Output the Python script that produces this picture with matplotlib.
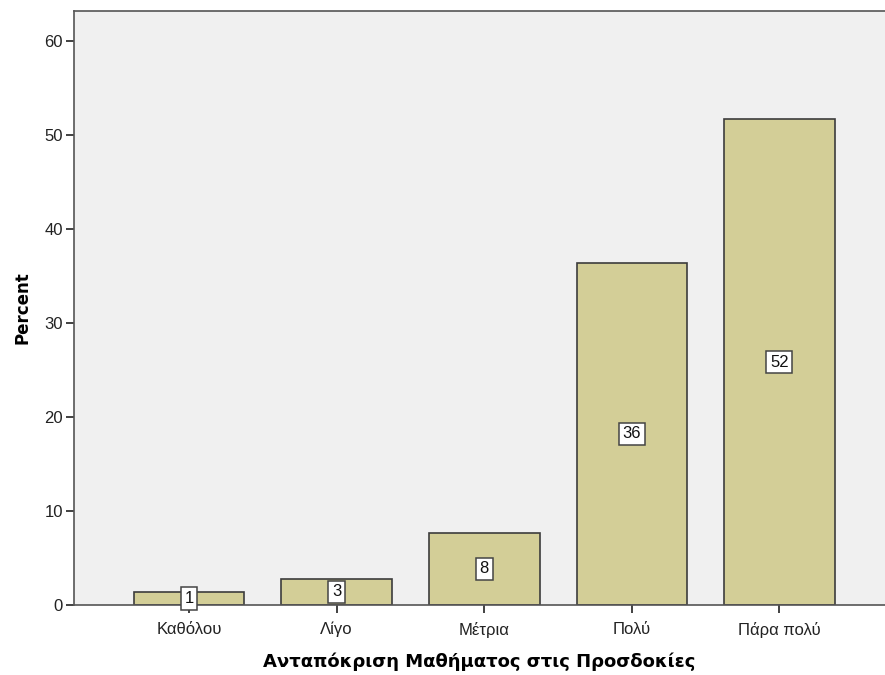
import matplotlib
matplotlib.use("Agg")
import matplotlib.pyplot as plt

# Response categories and their percentages
categories = ["Καθόλου", "Λίγο", "Μέτρια", "Πολύ", "Πάρα πολύ"]
percent = [1.4, 2.8, 7.7, 36.4, 51.7]
labels = ["1", "3", "8", "36", "52"]

plt.rcParams['font.family'] = ['Liberation Sans', 'DejaVu Sans']

fig = plt.figure(figsize=(8.85, 6.75), dpi=100)
ax = fig.add_axes([0.0836, 0.1037, 0.9164, 0.88])
ax.set_facecolor('#F0F0F0')

x = range(len(categories))
ax.bar(x, percent, width=0.75, color='#D3CE97', edgecolor='#3C3C3C', linewidth=1.2, zorder=2)

# value labels in boxes at half bar height
for i, (v, lab) in enumerate(zip(percent, labels)):
    ax.text(i, v / 2, lab, ha='center', va='center', fontsize=12, color='#111111', zorder=3,
            bbox=dict(boxstyle='square,pad=0.22', facecolor='white', edgecolor='#444444', linewidth=1.1))

ax.set_xlim(-0.78, 4.715)
ax.set_ylim(0, 63.2)
ax.set_yticks([0, 10, 20, 30, 40, 50, 60])
ax.set_xticks(list(x))
ax.set_xticklabels(categories)

for s in ['left', 'top', 'bottom']:
    ax.spines[s].set_color('#555555')
    ax.spines[s].set_linewidth(1.2)
ax.spines['right'].set_visible(False)
ax.tick_params(axis='both', direction='out', length=6, width=1.3, color='#333333',
               labelsize=12, labelcolor='#222222', pad=2)
ax.tick_params(axis='x', pad=6)

ax.set_ylabel('Percent', fontsize=12, fontweight='bold', family='DejaVu Sans', labelpad=9)
ax.set_xlabel('Ανταπόκριση Μαθήματος στις Προσδοκίες', fontsize=13, fontweight='bold',
              family='DejaVu Sans', labelpad=11)

fig.savefig('out.png', dpi=100)
